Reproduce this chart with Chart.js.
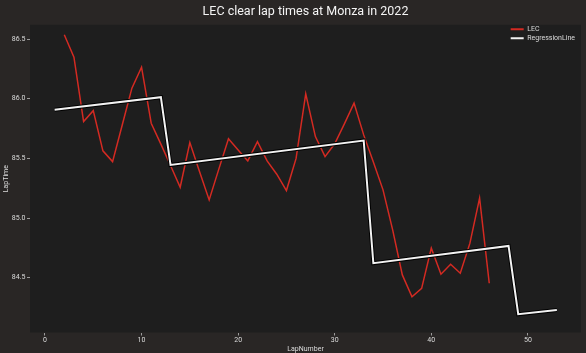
<!DOCTYPE html>
<html>
<head>
<meta charset="utf-8">
<script src="https://cdn.jsdelivr.net/npm/chart.js@4.4.0/dist/chart.umd.min.js"></script>
<style>
  html, body { margin: 0; padding: 0; background: #292625; }
  canvas { display: block; }
</style>
</head>
<body>
<canvas id="lapChart" width="586" height="353"></canvas>
<script>
const lapNumbers = [2, 3, 4, 5, 6, 7, 8, 9, 10, 11, 12, 13, 14, 15, 16, 17, 18, 19, 20, 21, 22, 23, 24,
  25, 26, 27, 28, 29, 30, 31, 32, 33, 34, 35, 36, 37, 38, 39, 40, 41, 42, 43, 44, 45, 46];
const lecTimes = [86.536, 86.349, 85.809, 85.900, 85.563, 85.473, 85.780, 86.089, 86.265, 85.795,
  85.620, 85.440, 85.258, 85.633, 85.390, 85.152, 85.410, 85.664, 85.570, 85.479, 85.641, 85.479,
  85.367, 85.230, 85.500, 86.041, 85.683, 85.515, 85.622, 85.789, 85.963, 85.697, 85.470, 85.236,
  84.900, 84.523, 84.340, 84.410, 84.747, 84.529, 84.612, 84.537, 84.789, 85.166, 84.453];

const regressionLaps = [1, 12, 13, 33, 34, 48, 49, 53];
const regressionTimes = [85.907, 86.013, 85.445, 85.649, 84.621, 84.766, 84.193, 84.228];

const xTicks = [0, 10, 20, 30, 40, 50];
const yTicks = [84.5, 85.0, 85.5, 86.0, 86.5];

const FONT = "'Liberation Sans Narrow', 'Roboto', sans-serif";
const TEXT = '#dcdcdc';

const lecPoints = lapNumbers.map((lap, i) => ({ x: lap, y: lecTimes[i] }));
const regressionPoints = regressionLaps.map((lap, i) => ({ x: lap, y: regressionTimes[i] }));

// dark plot area + put title/legend where matplotlib had them
const plotLayout = {
  id: 'plotLayout',
  beforeDraw(chart) {
    const { ctx, chartArea: a } = chart;
    ctx.save();
    ctx.fillStyle = '#1e1e1e';
    ctx.fillRect(a.left, a.top, a.width, a.height);
    ctx.restore();

    const t = chart.titleBlock;
    t.left = a.left;
    t.right = a.right;

    const lg = chart.legend;
    const w = lg.width;
    lg.left = a.right - w + 4;
    lg.right = lg.left + w;
    lg.top = a.top - 1;
    lg.bottom = lg.top + lg.height;
  }
};

const ctx = document.getElementById('lapChart');

const lapChart = new Chart(ctx, {
  type: 'line',
  data: {
    datasets: [
      {
        label: 'LEC',
        data: lecPoints,
        borderColor: '#d42a22',
        backgroundColor: '#d42a22',
        borderWidth: 1.5,
        pointRadius: 0,
        order: 3
      },
      {
        data: regressionPoints,
        borderColor: '#000000',
        borderWidth: 4,
        pointRadius: 0,
        order: 2
      },
      {
        label: 'RegressionLine',
        data: regressionPoints,
        borderColor: '#f2f2f2',
        backgroundColor: '#f2f2f2',
        borderWidth: 2,
        pointRadius: 0,
        order: 1
      }
    ]
  },
  options: {
    responsive: false,
    animation: false,
    layout: { padding: { left: 0, right: 5, top: 0, bottom: 0 } },
    plugins: {
      title: {
        display: true,
        text: 'LEC clear lap times at Monza in 2022',
        color: '#f4f4f4',
        font: { family: FONT, size: 12.5, weight: 'normal' },
        padding: { top: 4, bottom: 5.8 }
      },
      legend: {
        position: 'chartArea',
        align: 'start',
        labels: {
          color: TEXT,
          font: { family: FONT, size: 7 },
          boxWidth: 13,
          boxHeight: 2,
          padding: 2,
          sort: (a, b) => a.datasetIndex - b.datasetIndex,
          filter: item => !!item.text,
          generateLabels: chart => Chart.defaults.plugins.legend.labels.generateLabels(chart)
            .map(item => Object.assign(item, { fillStyle: item.strokeStyle, lineWidth: 0 }))
        }
      },
      tooltip: { enabled: false }
    },
    scales: {
      x: {
        type: 'linear',
        min: -1.55,
        max: 55.5,
        afterBuildTicks: s => { s.ticks = xTicks.map(v => ({ value: v })); },
        afterFit: s => { s.height = 20.5; },
        grid: { drawOnChartArea: false, tickLength: 3, tickColor: '#bbbbbb', tickWidth: 0.8 },
        border: { display: false },
        ticks: { color: TEXT, font: { family: FONT, size: 7 }, padding: 1, maxRotation: 0 },
        title: { display: true, text: 'LapNumber', color: TEXT, font: { family: FONT, size: 7 }, padding: 0 }
      },
      y: {
        min: 84.04,
        max: 86.62,
        afterBuildTicks: s => { s.ticks = yTicks.map(v => ({ value: v })); },
        afterFit: s => { s.width = 30; },
        grid: { drawOnChartArea: false, tickLength: 3, tickColor: '#bbbbbb', tickWidth: 0.8 },
        border: { display: false },
        ticks: {
          color: TEXT,
          font: { family: FONT, size: 7 },
          padding: 1.5,
          callback: v => v.toFixed(1)
        },
        title: { display: true, text: 'LapTime', color: TEXT, font: { family: FONT, size: 7 }, padding: 2.5 }
      }
    }
  },
  plugins: [plotLayout]
});
</script>
</body>
</html>
